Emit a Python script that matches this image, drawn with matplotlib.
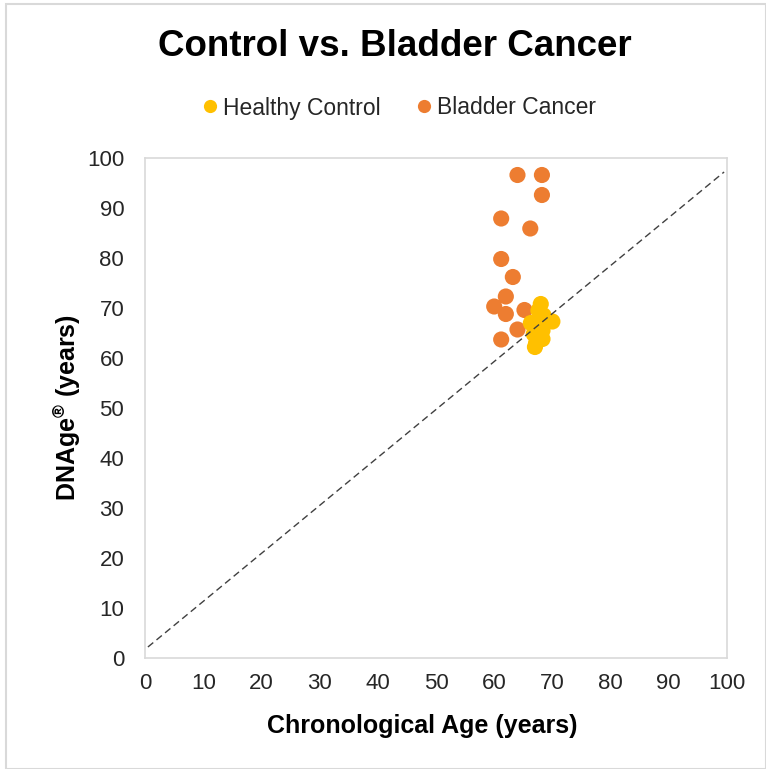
import matplotlib
matplotlib.use("Agg")
import matplotlib.pyplot as plt
from matplotlib.patches import Rectangle
from matplotlib.lines import Line2D

plt.rcParams['font.family'] = ['Liberation Sans', 'DejaVu Sans']
plt.rcParams['mathtext.fontset'] = 'custom'
plt.rcParams['mathtext.rm'] = 'Liberation Sans:bold'
plt.rcParams['mathtext.it'] = 'Liberation Sans:bold'
plt.rcParams['mathtext.bf'] = 'Liberation Sans:bold'

title = "Control vs. Bladder Cancer"
xlabel = "Chronological Age (years)"
ylabel = r"DNAge$^{®}$ (years)"
series_names = ["Healthy Control", "Bladder Cancer"]
colors = ["#FFC000", "#ED7D31"]

cancer_x = [64.0, 68.2, 68.2, 61.2, 66.2, 61.2, 63.2, 62.0, 60.0, 62.0, 65.2, 64.0, 61.2]
cancer_y = [96.6, 96.6, 92.6, 87.9, 85.9, 79.8, 76.2, 72.3, 70.3, 68.8, 69.6, 65.7, 63.7]

control_x = [68.0, 67.6, 68.5, 70.0, 66.3, 67.5, 68.3, 66.8, 68.3, 67.2, 67.0]
control_y = [70.8, 69.5, 68.5, 67.3, 67.0, 66.5, 65.5, 64.8, 63.8, 63.0, 62.2]

trend_x = [0.5, 99.5]
trend_y = [2.2, 97.2]

ticks = list(range(0, 101, 10))

fig = plt.figure(figsize=(7.66, 7.69), dpi=100)
ax = fig.add_axes([145/766, 1-658/769, (727-145)/766, (658-158)/769])

ax.plot(trend_x, trend_y, linestyle=(0, (5, 3)), color="#404040", linewidth=1.0, zorder=3)
ax.scatter(cancer_x, cancer_y, s=135, color=colors[1], edgecolors='none', zorder=2)
ax.scatter(control_x, control_y, s=135, color=colors[0], edgecolors='none', zorder=2)

ax.set_xlim(0, 100)
ax.set_ylim(0, 100)
ax.set_xticks(ticks)
ax.set_yticks(ticks)
ax.tick_params(length=0, labelsize=16, labelcolor="#262626")
ax.tick_params(axis='x', pad=11)
ax.tick_params(axis='y', pad=15)
for s in ax.spines.values():
    s.set_color("#D9D9D9")
    s.set_linewidth(1.2)

ax.set_xlabel(xlabel, fontsize=18, fontweight='bold', labelpad=14, x=(422-145)/582)
ax.set_ylabel(ylabel, fontsize=18, fontweight='bold', labelpad=3)

fig.text(395/766, 1-47/769, title, ha='center', va='center', fontsize=26.5, fontweight='bold')

handles = [Line2D([], [], marker='o', linestyle='none', markersize=9.5,
                  markerfacecolor=c, markeredgecolor='none') for c in colors]
fig.legend(handles, series_names, loc='center', bbox_to_anchor=(396/766, 1-108/769),
           ncol=2, frameon=False, fontsize=16.5, handletextpad=-0.05, columnspacing=1.3,
           handlelength=1.2, labelcolor="#262626")

fig.patches.append(Rectangle((6/766, 0), 1 - 6/766, 1 - 4/769, transform=fig.transFigure,
                             fill=False, edgecolor="#D9D9D9", linewidth=1.5))

fig.savefig("out.png", dpi=100)
